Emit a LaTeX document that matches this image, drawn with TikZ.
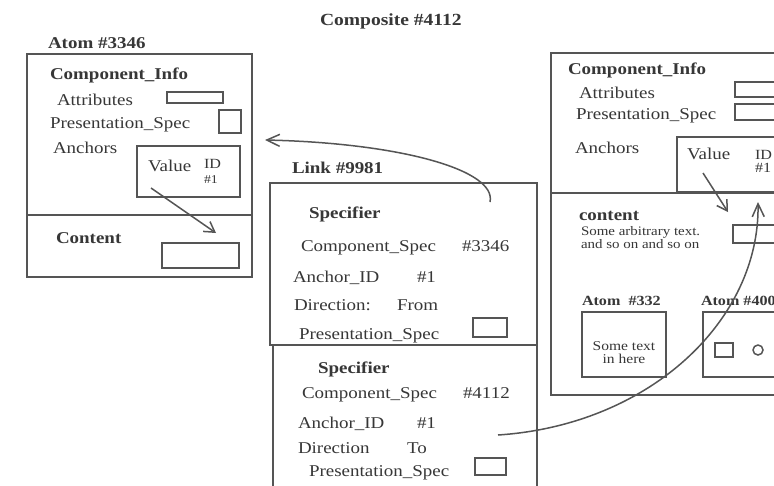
\documentclass[tikz,border=0pt]{standalone}
\usepackage{fontspec}
\setmainfont{Liberation Serif}[FakeStretch=1.15]
\usetikzlibrary{arrows.meta}
\definecolor{ink}{RGB}{85,85,85}
\definecolor{txt}{RGB}{55,55,55}
\tikzset{
  frame/.style={draw=ink, line width=1.8pt, anchor=north west, inner sep=0pt, outer sep=0pt},
  slot/.style={draw=ink, line width=1.5pt, anchor=north west, inner sep=0pt, outer sep=0pt},
  txtbase/.style={text=txt, anchor=base west, inner sep=0pt, outer sep=0pt},
  lab/.style={txtbase, font=\fontsize{16.5}{18}\selectfont},
  head/.style={txtbase, font=\fontsize{16.5}{18}\selectfont\bfseries},
  title/.style={txtbase, font=\fontsize{17}{19}\selectfont\bfseries},
  small/.style={txtbase, font=\fontsize{13.5}{15}\selectfont},
  tiny/.style={txtbase, font=\fontsize{13}{14}\selectfont},
  smallhead/.style={txtbase, font=\fontsize{14}{16}\selectfont\bfseries},
  idlab/.style={txtbase, font=\fontsize{14}{16}\selectfont},
  idnum/.style={txtbase, font=\fontsize{12}{14}\selectfont},
  conn/.style={draw=ink, line width=1.5pt, -{Straight Barb[length=10pt,width=12pt]}},
  longconn/.style={draw=ink, line width=1.5pt, -{Straight Barb[length=13pt,width=12pt]}},
}
\begin{document}
\begin{tikzpicture}[x=1pt,y=-1pt]
\useasboundingbox (0,0) rectangle (774,485);
\fill[white] (0,0) rectangle (774,485);
\clip (0,0) rectangle (774,485);

% ---- title ----
\node[title] (compTitle) at (320,25) {Composite \#4112};

% ---- Atom #3346 ----
\node[head] (atomTitle) at (48,48) {Atom \#3346};
\node[frame, minimum width=225pt, minimum height=161pt] (atomInfo) at (27,54) {};
\node[frame, minimum width=225pt, minimum height=62pt] (atomContent) at (27,215) {};
\node[head] (ciA) at (50,79) {Component\_Info};
\node[lab] (attrA) at (57,105) {Attributes};
\node[slot, minimum width=56pt, minimum height=11pt] (attrSlotA) at (167,92) {};
\node[lab] (psA) at (50,128) {Presentation\_Spec};
\node[slot, minimum width=22pt, minimum height=23pt] (psSlotA) at (219,110) {};
\node[lab] (anchA) at (53,153) {Anchors};
\node[frame, line width=1.6pt, minimum width=103pt, minimum height=51pt] (valBoxA) at (137,146) {};
\node[lab] (valA) at (148,171) {Value};
\node[idlab] (idA) at (204,168) {ID};
\node[idnum] (idNumA) at (204,183) {\#1};
\node[head] (contA) at (56,243) {Content};
\node[slot, minimum width=77pt, minimum height=25pt] (contSlotA) at (162,243) {};
\coordinate (valStartA) at (151,188);
\coordinate (contEndA) at (216,233);
\draw[conn] (valStartA) -- (contEndA);

% ---- Link #9981 ----
\node[head] (linkTitle) at (292,173) {Link \#9981};
\node[frame, minimum width=267pt, minimum height=162pt] (specOne) at (270,183) {};
\node[frame, minimum width=264pt, minimum height=170pt] (specTwo) at (273,345) {};

\node[head] (sOneHead) at (309,218) {Specifier};
\node[lab] (sOneCS) at (301,251) {Component\_Spec};
\node[lab] (sOneCSv) at (462,251) {\#3346};
\node[lab] (sOneAI) at (293,282) {Anchor\_ID};
\node[lab] (sOneAIv) at (417,282) {\#1};
\node[lab] (sOneDir) at (294,310) {Direction:};
\node[lab] (sOneDirv) at (397,310) {From};
\node[lab] (sOnePS) at (299,339) {Presentation\_Spec};
\node[slot, minimum width=34pt, minimum height=19pt] (sOnePSslot) at (473,318) {};

\node[head] (sTwoHead) at (318,373) {Specifier};
\node[lab] (sTwoCS) at (302,398) {Component\_Spec};
\node[lab] (sTwoCSv) at (463,398) {\#4112};
\node[lab] (sTwoAI) at (298,428) {Anchor\_ID};
\node[lab] (sTwoAIv) at (417,428) {\#1};
\node[lab] (sTwoDir) at (298,453) {Direction};
\node[lab] (sTwoDirv) at (407,453) {To};
\node[lab] (sTwoPS) at (309,476) {Presentation\_Spec};
\node[slot, minimum width=31pt, minimum height=17pt] (sTwoPSslot) at (475,458) {};

% ---- Composite #4112 body ----
\node[frame, minimum width=260pt, minimum height=140pt] (compInfo) at (551,53) {};
\node[frame, minimum width=260pt, minimum height=202pt] (compContent) at (551,193) {};
\node[head] (ciB) at (568,74) {Component\_Info};
\node[lab] (attrB) at (579,98) {Attributes};
\node[slot, minimum width=60pt, minimum height=15pt] (attrSlotB) at (735,82) {};
\node[lab] (psB) at (576,119) {Presentation\_Spec};
\node[slot, minimum width=60pt, minimum height=16pt] (psSlotB) at (735,104) {};
\node[lab] (anchB) at (575,153) {Anchors};
\node[frame, line width=1.6pt, minimum width=120pt, minimum height=55pt] (valBoxB) at (677,137) {};
\node[lab] (valB) at (687,159) {Value};
\node[idlab] (idB) at (755,159) {ID};
\node[idlab] (idNumB) at (755,172) {\#1};
\node[head] (contB) at (579,220) {content};
\node[tiny] (contTextB1) at (581,235) {Some arbitrary text.};
\node[tiny] (contTextB2) at (581,248) {and so on and so on};
\node[slot, minimum width=60pt, minimum height=18pt] (contSlotB) at (733,225) {};
\coordinate (valStartB) at (703,173);
\coordinate (contEndB) at (728,212);
\draw[conn] (valStartB) -- (contEndB);

\node[smallhead] (a332Title) at (582,305) {Atom \ \#332};
\node[slot, line width=1.6pt, minimum width=84pt, minimum height=65pt] (a332) at (582,312) {};
\node[small, anchor=base] (a332t1) at (624,350) {Some text};
\node[small, anchor=base] (a332t2) at (624,363) {in here};

\node[smallhead] (a400Title) at (701,305) {Atom \#400};
\node[slot, line width=1.6pt, minimum width=100pt, minimum height=65pt] (a400) at (703,312) {};
\node[slot, minimum width=18pt, minimum height=14pt] (a400rect) at (715,343) {};
\node[draw=ink, line width=1.5pt, circle, minimum size=10pt, inner sep=0pt] (a400circ) at (758,350) {};

% ---- link arcs ----
\coordinate (fromStart) at (490,202);
\coordinate (fromEnd) at (265,140);
\draw[longconn] (fromStart) .. controls (497,170) and (400,143) .. (fromEnd);
\coordinate (toStart) at (498,435);
\coordinate (toEnd) at (758,202);
\draw[longconn] (toStart) .. controls (650,425) and (760,320) .. (toEnd);
\end{tikzpicture}
\end{document}
